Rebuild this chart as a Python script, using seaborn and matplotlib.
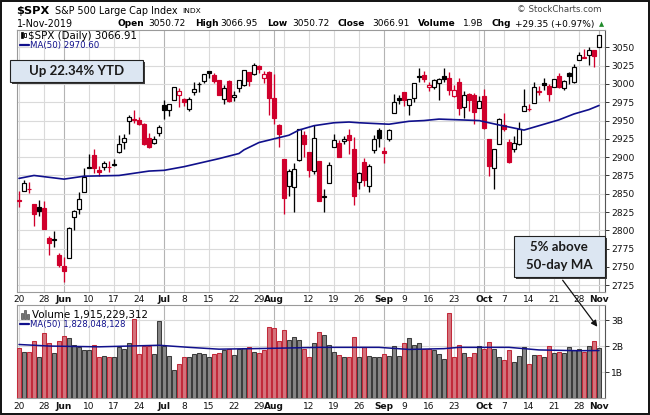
import matplotlib
matplotlib.use("Agg")
import matplotlib.pyplot as plt
import seaborn as sns
from matplotlib.patches import Rectangle, FancyArrowPatch
from matplotlib.transforms import Affine2D

# ---------------- data (S&P 500 daily, 20-May-2019 .. 1-Nov-2019) ----------------
prev_close_start = 2859.53  # close of the session before the first candle

opens = [2841.94, 2854.02, 2856.06, 2836.70, 2832.41, 2830.03, 2790.25, 2786.94, 2766.15,
         2751.53, 2762.64, 2818.09, 2828.51, 2852.87,
         2885.83, 2903.27, 2882.73, 2886.24, 2886.82,
         2889.75, 2906.71, 2920.55, 2949.60, 2952.71,
         2951.42, 2945.78, 2926.07, 2919.66, 2932.94,
         2971.41, 2964.66, 2978.08, 2984.25,
         2979.77, 2965.52, 2989.30, 2999.62, 3003.36,
         3017.80, 3012.13, 3005.10, 2978.87, 3004.26,
         2981.93, 2994.74, 2998.77, 3016.26, 3013.25,
         3024.47, 3007.66, 3016.22,
         2980.32, 2943.90,
         2898.07, 2861.18, 2858.65, 2896.21, 2930.51,
         2907.07, 2880.72, 2894.15, 2846.20, 2864.74,
         2913.48, 2919.01, 2922.04, 2930.94, 2911.07,
         2866.70, 2893.14, 2861.28, 2910.37, 2937.09,
         2909.01, 2924.67, 2960.60, 2980.33,
         2988.43, 2971.01, 2981.41, 3010.20, 3012.21,
         2996.41, 2995.67, 3001.50, 3010.36, 3008.42,
         2983.50, 3002.43, 2968.35, 2985.73, 2985.47,
         2967.07,
         2983.69, 2924.78, 2885.38, 2918.56,
         2944.23, 2920.40, 2911.10, 2918.55, 2963.07,
         2965.81, 2973.61, 2989.68, 3000.77, 2996.84,
         2996.48, 3010.73, 2994.01, 3014.78, 3003.32,
         3032.12, 3035.39, 3039.74, 3046.90,
         3050.72]

highs = [2853.86, 2868.88, 2865.47, 2836.70, 2841.36, 2840.51, 2792.03, 2799.00, 2768.98,
         2763.07, 2804.49, 2827.28, 2852.10, 2884.97,
         2904.77, 2910.61, 2888.57, 2895.24, 2894.45,
         2897.27, 2930.79, 2931.74, 2958.06, 2964.15,
         2954.92, 2946.52, 2932.59, 2929.30, 2943.98,
         2977.93, 2973.21, 2995.84, 2994.03,
         2980.76, 2981.90, 3002.98, 3002.33, 3013.92,
         3017.80, 3015.02, 3005.26, 2998.28, 3006.02,
         2990.71, 3005.90, 3019.59, 3016.31, 3027.98,
         3025.61, 3017.19, 3017.40,
         3013.59, 2945.50,
         2898.07, 2884.40, 2892.17, 2938.72, 2935.75,
         2907.58, 2943.31, 2894.15, 2856.67, 2893.63,
         2931.00, 2923.63, 2928.73, 2939.08, 2927.01,
         2879.27, 2898.79, 2890.03, 2930.50, 2940.43,
         2914.39, 2938.84, 2985.86, 2985.03,
         2989.43, 2979.39, 3000.93, 3021.99, 3017.33,
         3002.19, 3006.21, 3007.83, 3021.19, 3016.37,
         2999.15, 3007.98, 2989.82, 2987.28, 2987.31,
         2983.85,
         2992.53, 2924.78, 2911.13, 2953.74,
         2959.75, 2925.47, 2929.32, 2948.46, 2993.28,
         2972.84, 3003.28, 2997.54, 3008.29, 3000.00,
         3007.33, 3014.57, 3004.78, 3016.07, 3027.39,
         3044.08, 3047.87, 3050.10, 3046.90,
         3066.95]

lows = [2831.29, 2854.02, 2851.11, 2805.49, 2820.19, 2801.58, 2766.06, 2776.74, 2750.52,
        2728.81, 2762.64, 2800.92, 2822.45, 2852.87,
        2885.51, 2878.53, 2874.68, 2881.99, 2879.62,
        2887.30, 2905.44, 2911.43, 2931.50, 2946.87,
        2944.05, 2916.01, 2912.99, 2918.57, 2929.05,
        2952.22, 2955.92, 2977.96, 2967.97,
        2970.09, 2963.44, 2984.62, 2988.80, 3001.87,
        3008.77, 3001.15, 2984.25, 2973.09, 2975.86,
        2976.65, 2988.56, 2996.82, 2997.24, 3012.59,
        3014.30, 3000.94, 2958.08,
        2945.23, 2914.11,
        2822.12, 2847.42, 2825.71, 2894.47, 2900.15,
        2873.14, 2877.05, 2839.64, 2825.51, 2864.74,
        2913.48, 2899.60, 2917.91, 2904.51, 2834.97,
        2856.00, 2860.59, 2853.05, 2905.67, 2913.32,
        2891.85, 2921.86, 2960.60, 2972.51,
        2969.39, 2957.01, 2975.31, 3003.16, 3002.90,
        2990.67, 2993.73, 2978.57, 3003.16, 2984.68,
        2982.23, 2957.73, 2952.86, 2963.71, 2945.53,
        2967.07,
        2938.70, 2874.93, 2855.94, 2918.56,
        2935.68, 2892.66, 2907.41, 2917.12, 2963.07,
        2962.94, 2973.61, 2985.20, 2991.79, 2976.31,
        2995.35, 2995.04, 2991.21, 3000.42, 3001.94,
        3032.12, 3034.81, 3025.96, 3023.19,
        3050.72]

closes = [2840.23, 2864.36, 2856.27, 2822.24, 2826.06, 2802.39, 2783.02, 2788.86, 2752.06,
          2744.45, 2803.27, 2826.15, 2843.49, 2873.34,
          2886.73, 2885.72, 2879.84, 2891.64, 2886.98,
          2889.67, 2917.75, 2926.46, 2954.18, 2950.46,
          2945.35, 2917.38, 2913.78, 2924.92, 2941.76,
          2964.33, 2973.01, 2995.82, 2990.41,
          2975.95, 2979.63, 2993.07, 2999.91, 3013.77,
          3014.30, 3004.04, 2984.42, 2995.11, 2976.61,
          2985.03, 3005.47, 3019.56, 3003.67, 3025.86,
          3020.97, 3013.18, 2980.38,
          2953.56, 2932.05,
          2844.74, 2881.77, 2883.98, 2938.09, 2918.65,
          2882.70, 2926.32, 2840.60, 2847.60, 2888.68,
          2923.65, 2900.51, 2924.43, 2922.95, 2847.11,
          2878.38, 2869.16, 2887.94, 2924.58, 2926.46,
          2906.27, 2937.78, 2976.00, 2978.71,
          2978.43, 2979.39, 3000.93, 3009.57, 3007.39,
          2997.96, 3005.70, 3006.73, 3006.79, 2992.07,
          2991.78, 2966.60, 2984.87, 2977.62, 2961.79,
          2976.74,
          2940.25, 2887.61, 2910.63, 2952.01,
          2938.79, 2893.06, 2919.40, 2938.13, 2970.27,
          2966.15, 2995.68, 2989.69, 2997.95, 2986.20,
          3006.72, 2995.99, 3004.52, 3010.29, 3022.55,
          3039.42, 3036.89, 3046.77, 3037.56,
          3066.91]

# volume in billions of shares
volume_b = [1.91, 1.79, 1.79, 2.18, 1.59, 2.50, 2.12, 1.75, 2.18,
            2.38, 2.30, 2.03, 1.96, 1.83,
            1.83, 2.03, 1.59, 1.63, 1.56,
            1.56, 1.97, 1.87, 2.12, 3.05,
            1.71, 2.00, 2.00, 1.71, 2.97,
            2.00, 1.63, 1.08, 1.29,
            1.56, 1.59, 1.69, 1.75, 1.71,
            1.59, 1.71, 1.75, 1.83, 1.87,
            1.67, 1.90, 1.91, 1.97, 1.79,
            1.75, 1.83, 2.73,
            2.69, 2.18,
            2.61, 2.22, 2.34, 2.22, 1.87,
            1.59, 2.10, 2.54, 2.42, 2.05,
            1.76, 1.67, 1.56, 1.56, 2.34,
            1.59, 1.95, 1.63, 1.59, 1.59,
            1.71, 1.63, 1.99, 1.63,
            2.10, 2.30, 2.03, 2.10, 1.87,
            1.87, 1.83, 1.71, 1.52, 3.28,
            1.56, 2.03, 1.75, 1.56, 1.75,
            1.99,
            1.87, 2.14, 1.87, 1.59,
            1.48, 1.83, 1.40, 1.63, 1.95,
            1.32, 1.67, 1.67, 1.59, 1.99,
            1.75, 1.79, 1.75, 1.95, 1.83,
            1.87, 1.79, 1.99, 2.18,
            1.915]

# 50-day moving averages (trading-day index, value)
ma_idx = [0, 3, 9, 13, 20, 26, 29, 33, 40, 44, 45, 48, 51, 54, 56, 59, 63, 66, 68,
          74, 78, 81, 84, 92, 96, 101, 104, 108, 111, 114, 116]
ma_vals = [2871, 2875, 2870, 2874, 2875, 2881, 2882, 2887, 2898, 2905, 2910, 2920, 2925,
           2930, 2937, 2943, 2947, 2948, 2947, 2945, 2949, 2950, 2952, 2950, 2944, 2937,
           2943, 2951, 2959, 2965, 2970.60]
vma_idx = [0, 6, 16, 28, 34, 40, 50, 60, 72, 78, 85, 88, 98, 104, 112, 116]
vma_vals = [2.06, 2.00, 1.97, 2.03, 1.95, 1.88, 1.91, 1.95, 1.95, 1.87, 1.90, 1.95,
            1.95, 1.85, 1.82, 1.828]

# x-axis labels (trading-day index of each label)
tick_idx = [0, 5, 9, 14, 19, 24, 29, 33, 38, 43, 48, 51, 58, 63, 68, 73, 77, 82, 87,
            93, 97, 102, 107, 112, 116]
tick_labels = ["20", "28", "Jun", "10", "17", "24", "Jul", "8", "15", "22", "29", "Aug",
               "12", "19", "26", "Sep", "9", "16", "23", "Oct", "7", "14", "21", "28", "Nov"]
week_grid_idx = [0, 5, 9, 14, 19, 24, 29, 33, 38, 43, 48, 51, 53, 58, 63, 68, 73, 77, 82,
                 87, 92, 93, 97, 102, 107, 112, 116]
month_grid_idx = [9, 29, 51, 73, 93, 116]
price_ticks = [2725, 2750, 2775, 2800, 2825, 2850, 2875, 2900, 2925, 2950, 2975, 3000,
               3025, 3050]
vol_ticks = [1, 2, 3]
vol_tick_labels = ["1B", "2B", "3B"]

# ---------------- styling ----------------
sns.set_theme(style="white")
plt.rcParams['font.family'] = ['DejaVu Sans']

UP = "#000000"
DOWN = "#d0002c"
NAVY = "#10108c"
GRID = "#dadada"
MGRID = "#b4b4b4"

W, H = 650, 415
fig = plt.figure(figsize=(W / 100, H / 100), dpi=100)
fig.patch.set_facecolor("white")
pix = Affine2D().scale(1.0 / W, -1.0 / H).translate(0, 1) + fig.transFigure


def rect(l, t, r, b):
    return [l / W, 1 - b / H, (r - l) / W, (b - t) / H]


axp = fig.add_axes(rect(17, 30, 605, 291.5))
axv = fig.add_axes(rect(17, 305, 605, 398))

n = len(closes)
xs = list(range(n))
prev = [prev_close_start] + closes[:-1]

# ---------------- price panel ----------------
for i in xs:
    o, h, l, c, p = opens[i], highs[i], lows[i], closes[i], prev[i]
    col = UP if c >= p else DOWN
    face = col if c < o else "white"
    axp.vlines(i, l, h, color=col, lw=0.95, zorder=3)
    bh = abs(c - o)
    axp.bar(i, max(bh, 0.35), bottom=min(o, c), width=0.64, facecolor=face,
            edgecolor=col, linewidth=0.85, zorder=4)

sns.lineplot(x=ma_idx, y=ma_vals, ax=axp, color=NAVY, linewidth=1.2, legend=False, zorder=5)

axp.set_xlim(-0.4, 117.2)
axp.set_ylim(2716.5, 3073.7)

for gi in week_grid_idx:
    axp.axvline(gi, color=MGRID if gi in month_grid_idx else GRID, lw=0.8, zorder=1)
    axv.axvline(gi, color=MGRID if gi in month_grid_idx else GRID, lw=0.8, zorder=1)
for pt in price_ticks:
    axp.axhline(pt, color=GRID, lw=0.8, zorder=1)

axp.yaxis.tick_right()
axp.set_yticks(price_ticks)
axp.set_yticklabels([str(t) for t in price_ticks])
axp.tick_params(axis="y", right=True, length=3, width=0.7, color="#333333", pad=1.5,
                labelsize=6.6, labelcolor="#111111")
axp.set_xticks(tick_idx)
axp.set_xticklabels(tick_labels)
axp.tick_params(axis="x", bottom=False, length=0, pad=2.2, labelsize=6.5, labelcolor="#111111")
for lab in axp.get_xticklabels():
    if lab.get_text().isalpha():
        lab.set_fontweight("bold")
axp.set_xlabel("")
axp.set_ylabel("")
for s, sp in axp.spines.items():
    sp.set_color("#9a9a9a")
    sp.set_linewidth(0.8)
axp.spines["right"].set_color("#555555")

# ---------------- volume panel ----------------
vcols = []
vedges = []
for i in xs:
    if closes[i] >= prev[i]:
        vcols.append("#858585")
        vedges.append("#3c3c3c")
    else:
        vcols.append("#d4737c")
        vedges.append("#c22a3a")
axv.bar(xs, volume_b, width=0.82, color=vcols, edgecolor=vedges, linewidth=0.75, zorder=3)
sns.lineplot(x=vma_idx, y=vma_vals, ax=axv, color=NAVY, linewidth=1.1, legend=False, zorder=5)
axv.set_xlim(-0.4, 117.2)
axv.set_ylim(0, 3.58)
for vt in vol_ticks:
    axv.axhline(vt, color=GRID, lw=0.8, zorder=1)
axv.yaxis.tick_right()
axv.set_yticks(vol_ticks)
axv.set_yticklabels(vol_tick_labels)
axv.tick_params(axis="y", right=True, length=3, width=0.7, color="#333333", pad=1.5,
                labelsize=6.6, labelcolor="#111111")
axv.set_xticks(tick_idx)
axv.set_xticklabels(tick_labels)
axv.tick_params(axis="x", bottom=False, length=0, pad=2.6, labelsize=6.5, labelcolor="#111111")
for lab in axv.get_xticklabels():
    if lab.get_text().isalpha():
        lab.set_fontweight("bold")
axv.set_xlabel("")
axv.set_ylabel("")
for s, sp in axv.spines.items():
    sp.set_color("#9a9a9a")
    sp.set_linewidth(0.8)
axv.spines["right"].set_color("#555555")


# ---------------- header texts ----------------
def ftxt(x, y, s, size, weight="normal", color="#000000", ha="left", family=None, **kw):
    kws = dict(transform=pix, fontsize=size, fontweight=weight, color=color, ha=ha,
               va="center")
    if family:
        kws["family"] = family
    kws.update(kw)
    return fig.text(x, y, s, **kws)


ftxt(16, 11, "$SPX", 8.2, "bold")
ftxt(55, 11, "S&P 500 Large Cap Index", 6.9)
ftxt(182, 11, "INDX", 5.4)
ftxt(17, 24, "1-Nov-2019", 6.9)
line2 = [(117, "Open", "bold"), (148, "3050.72", "normal"), (195, "High", "bold"),
         (220, "3066.95", "normal"), (267, "Low", "bold"), (292, "3050.72", "normal"),
         (338, "Close", "bold"), (372, "3066.91", "normal"), (418, "Volume", "bold"),
         (463, "1.9B", "normal"), (492, "Chg", "bold"), (515, "+29.35 (+0.97%)", "normal")]
for x0, s, wgt in line2:
    ftxt(x0, 24, s, 6.5, wgt)
ftxt(599, 24, "\u25B2", 4.8, color="#1f8a2a")
ftxt(517, 10, "\u00A9 StockCharts.com", 6.2, color="#444444")

# legends inside panels
fig.add_artist(Rectangle((20.5, 32), 2.2, 6, transform=pix, facecolor="black",
                         edgecolor="black", lw=0.5))
fig.add_artist(Rectangle((24, 33), 2.2, 4.5, transform=pix, facecolor="white",
                         edgecolor="black", lw=0.6))
ftxt(28, 36, "$SPX (Daily) 3066.91", 7.4)
fig.add_artist(plt.Line2D([20, 29], [45.5, 45.5], transform=pix, color=NAVY, lw=1.6))
ftxt(30, 45.8, "MA(50) 2970.60", 6.2, color=NAVY)

for bx, bt in [(20.5, 312.5), (23.5, 310), (26.5, 314)]:
    fig.add_artist(Rectangle((bx, bt), 2, 318.5 - bt, transform=pix, facecolor="#777777",
                             edgecolor="#333333", lw=0.4))
ftxt(32, 314.5, "Volume 1,915,229,312", 7.4)
fig.add_artist(plt.Line2D([20, 29], [324, 324], transform=pix, color=NAVY, lw=1.6))
ftxt(30, 324, "MA(50) 1,828,048,128", 6.1, color=NAVY)

# annotation boxes
BOXFACE = "#dce6f2"
fig.add_artist(Rectangle((12, 62), 133, 22, transform=pix, facecolor="#3a3a3a",
                         edgecolor="none", zorder=5))
fig.add_artist(Rectangle((10, 60), 133, 22, transform=pix, facecolor=BOXFACE,
                         edgecolor="#222222", lw=0.8, zorder=6))
ftxt(76.5, 71, "Up 22.34% YTD", 9.5, "bold", color="#1a1a1a", ha="center",
     family=["Lato", "DejaVu Sans"], zorder=7)

fig.add_artist(Rectangle((515.5, 238), 91, 41, transform=pix, facecolor="#3a3a3a",
                         edgecolor="none", zorder=5))
fig.add_artist(Rectangle((513.5, 236), 91, 41, transform=pix, facecolor=BOXFACE,
                         edgecolor="#222222", lw=0.8, zorder=6))
ftxt(559, 247, "5% above", 9.5, "bold", color="#1a1a1a", ha="center",
     family=["Lato", "DejaVu Sans"], zorder=7)
ftxt(559, 264.5, "50-day MA", 9.5, "bold", color="#1a1a1a", ha="center",
     family=["Lato", "DejaVu Sans"], zorder=7)

fig.add_artist(FancyArrowPatch((561, 278), (599, 329), transform=pix, arrowstyle="-|>",
                               mutation_scale=9, color="#111111", lw=0.9, zorder=8))

# outer frame
fig.add_artist(Rectangle((1, 1), 647.5, 412.5, transform=pix, facecolor="none",
                         edgecolor="#111111", lw=1.4, zorder=10))

fig.savefig("out.png", dpi=100, facecolor="white")
